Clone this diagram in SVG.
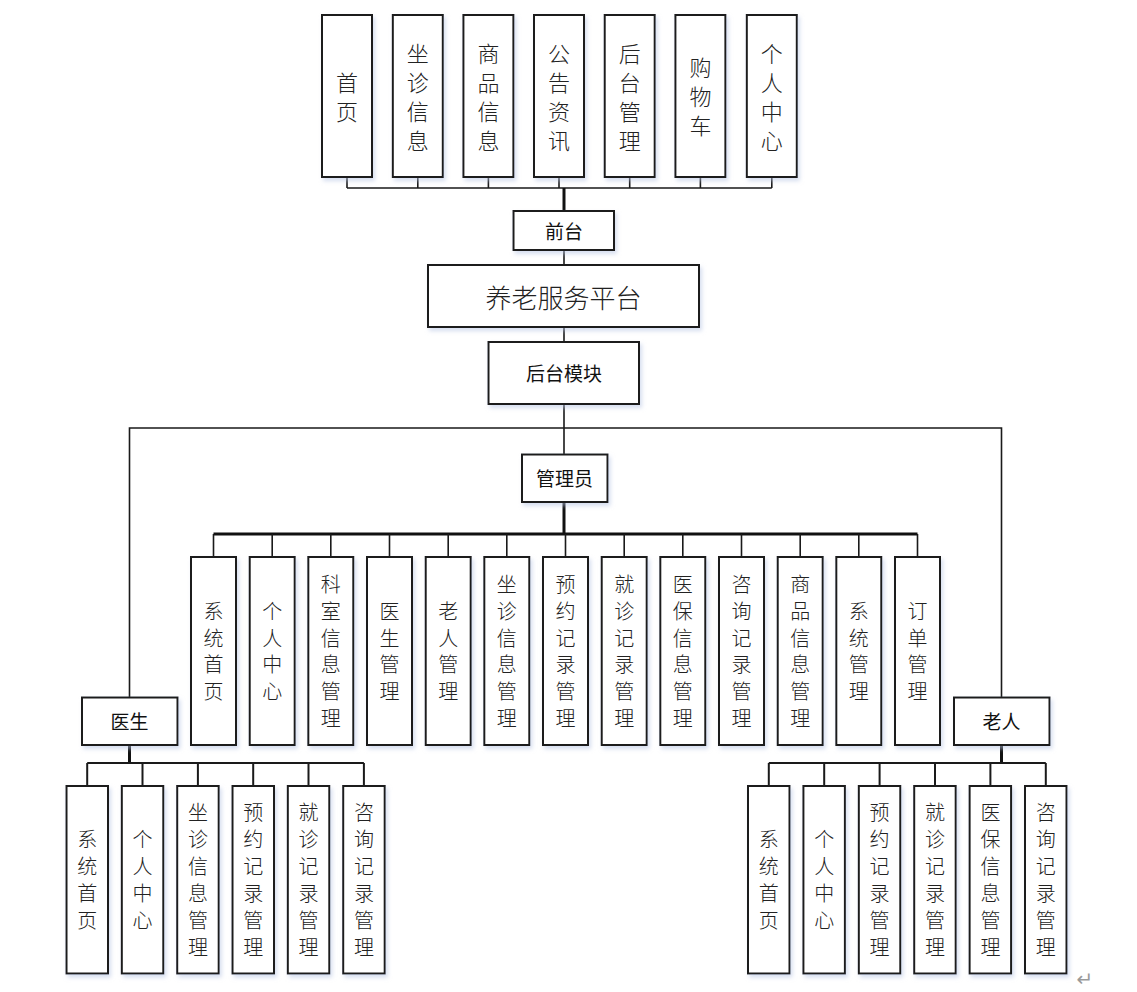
<svg xmlns="http://www.w3.org/2000/svg" width="1137" height="992" viewBox="0 0 1137 992">
<style>
.box{fill:#fff;stroke:#1a1a1a;stroke-width:2;filter:url(#sh)}
.t{font-family:"Noto Sans CJK SC","Noto Sans",sans-serif;fill:#222;text-anchor:middle;dominant-baseline:central}
.v{font-size:20px;font-weight:300}
.vt{font-size:22px;font-weight:300}
.h{font-size:19px;font-weight:400;fill:#111}
.big{font-size:26px;font-weight:300}
.ln{stroke:#1a1a1a;stroke-width:1.6;fill:none}
.tk{stroke:#111;stroke-width:3;fill:none}
</style>
<defs>
<filter id="sh" x="-20%" y="-10%" width="150%" height="130%">
<feDropShadow dx="2" dy="3" stdDeviation="2" flood-color="#b4c2e2" flood-opacity="0.55"/>
</filter>
</defs>
<rect width="1137" height="992" fill="#fff"/>
<g id="connectors">
<path class="ln" d="M347 177V188M417.8 177V188M488.4 177V188M559 177V188M629.7 177V188M700.4 177V188M771.8 177V188M347 188H771.8"/>
<path class="tk" d="M564 188V211"/>
<path class="ln" d="M564 250V265M564 327V342M564 404V454"/>
<path class="ln" d="M129.5 697V428H1001.5V697"/>
<path class="tk" d="M564 502V534M213.5 534H917.5"/>
<path class="ln" d="M213.5 534V557M272.2 534V557M330.8 534V557M389.5 534V557M448.2 534V557M506.8 534V557M565.5 534V557M624.2 534V557M682.8 534V557M741.5 534V557M800.2 534V557M858.8 534V557M917.5 534V557"/>
<path class="tk" d="M129.5 745V763M1001.5 745V763"/>
<path class="ln" d="M87.2 763H363.9M87.2 763V786M142.5 763V786M197.9 763V786M253.2 763V786M308.5 763V786M363.9 763V786" style="stroke-width:2"/>
<path class="ln" d="M768.8 763H1045.8M768.8 763V786M824.2 763V786M879.6 763V786M935 763V786M990.4 763V786M1045.8 763V786" style="stroke-width:2"/>
</g>
<g id="top-shouye"><rect class="box" x="322" y="15" width="50" height="162"/><text class="t vt" x="347"><tspan x="347" y="80.5">首</tspan><tspan x="347" y="109.5">页</tspan></text></g>
<g id="top-zuozhen"><rect class="box" x="392.8" y="15" width="50" height="162"/><text class="t vt"><tspan x="417.8" y="51.5">坐</tspan><tspan x="417.8" y="80.5">诊</tspan><tspan x="417.8" y="109.5">信</tspan><tspan x="417.8" y="138.5">息</tspan></text></g>
<g id="top-shangpin"><rect class="box" x="463.4" y="15" width="50" height="162"/><text class="t vt"><tspan x="488.4" y="51.5">商</tspan><tspan x="488.4" y="80.5">品</tspan><tspan x="488.4" y="109.5">信</tspan><tspan x="488.4" y="138.5">息</tspan></text></g>
<g id="top-gonggao"><rect class="box" x="534" y="15" width="50" height="162"/><text class="t vt"><tspan x="559" y="51.5">公</tspan><tspan x="559" y="80.5">告</tspan><tspan x="559" y="109.5">资</tspan><tspan x="559" y="138.5">讯</tspan></text></g>
<g id="top-houtai"><rect class="box" x="604.7" y="15" width="50" height="162"/><text class="t vt"><tspan x="629.7" y="51.5">后</tspan><tspan x="629.7" y="80.5">台</tspan><tspan x="629.7" y="109.5">管</tspan><tspan x="629.7" y="138.5">理</tspan></text></g>
<g id="top-gouwuche"><rect class="box" x="675.4" y="15" width="50" height="162"/><text class="t vt"><tspan x="700.4" y="66">购</tspan><tspan x="700.4" y="95">物</tspan><tspan x="700.4" y="124">车</tspan></text></g>
<g id="top-geren"><rect class="box" x="746.8" y="15" width="50" height="162"/><text class="t vt"><tspan x="771.8" y="51.5">个</tspan><tspan x="771.8" y="80.5">人</tspan><tspan x="771.8" y="109.5">中</tspan><tspan x="771.8" y="138.5">心</tspan></text></g>
<g id="qiantai"><rect class="box" x="513.5" y="211" width="100.5" height="39"/><text class="t h" x="564" y="230">前台</text></g>
<g id="platform"><rect class="box" x="428" y="265" width="271" height="62"/><text class="t big" x="563.5" y="296">养老服务平台</text></g>
<g id="houtaimokuai"><rect class="box" x="488.5" y="342" width="150.5" height="62"/><text class="t h" x="564" y="372.5">后台模块</text></g>
<g id="admin"><rect class="box" x="522" y="454.5" width="85.5" height="47.5"/><text class="t h" x="564.5" y="477.5">管理员</text></g>
<g id="doctor"><rect class="box" x="82" y="697.5" width="95.5" height="47.5"/><text class="t h" x="129.5" y="720.5">医生</text></g>
<g id="elder"><rect class="box" x="954" y="697.5" width="95.5" height="47.5"/><text class="t h" x="1001.5" y="720.5">老人</text></g>
<g id="a1"><rect class="box" x="191" y="557" width="45" height="188"/><text class="t v"><tspan x="213.5" y="610">系</tspan><tspan x="213.5" y="636.7">统</tspan><tspan x="213.5" y="663.3">首</tspan><tspan x="213.5" y="690">页</tspan></text></g>
<g id="a2"><rect class="box" x="249.7" y="557" width="45" height="188"/><text class="t v"><tspan x="272.2" y="610">个</tspan><tspan x="272.2" y="636.7">人</tspan><tspan x="272.2" y="663.3">中</tspan><tspan x="272.2" y="690">心</tspan></text></g>
<g id="a3"><rect class="box" x="308.3" y="557" width="45" height="188"/><text class="t v"><tspan x="330.8" y="583.3">科</tspan><tspan x="330.8" y="610">室</tspan><tspan x="330.8" y="636.7">信</tspan><tspan x="330.8" y="663.3">息</tspan><tspan x="330.8" y="690">管</tspan><tspan x="330.8" y="716.7">理</tspan></text></g>
<g id="a4"><rect class="box" x="367" y="557" width="45" height="188"/><text class="t v"><tspan x="389.5" y="610">医</tspan><tspan x="389.5" y="636.7">生</tspan><tspan x="389.5" y="663.3">管</tspan><tspan x="389.5" y="690">理</tspan></text></g>
<g id="a5"><rect class="box" x="425.7" y="557" width="45" height="188"/><text class="t v"><tspan x="448.2" y="610">老</tspan><tspan x="448.2" y="636.7">人</tspan><tspan x="448.2" y="663.3">管</tspan><tspan x="448.2" y="690">理</tspan></text></g>
<g id="a6"><rect class="box" x="484.3" y="557" width="45" height="188"/><text class="t v"><tspan x="506.8" y="583.3">坐</tspan><tspan x="506.8" y="610">诊</tspan><tspan x="506.8" y="636.7">信</tspan><tspan x="506.8" y="663.3">息</tspan><tspan x="506.8" y="690">管</tspan><tspan x="506.8" y="716.7">理</tspan></text></g>
<g id="a7"><rect class="box" x="543" y="557" width="45" height="188"/><text class="t v"><tspan x="565.5" y="583.3">预</tspan><tspan x="565.5" y="610">约</tspan><tspan x="565.5" y="636.7">记</tspan><tspan x="565.5" y="663.3">录</tspan><tspan x="565.5" y="690">管</tspan><tspan x="565.5" y="716.7">理</tspan></text></g>
<g id="a8"><rect class="box" x="601.7" y="557" width="45" height="188"/><text class="t v"><tspan x="624.2" y="583.3">就</tspan><tspan x="624.2" y="610">诊</tspan><tspan x="624.2" y="636.7">记</tspan><tspan x="624.2" y="663.3">录</tspan><tspan x="624.2" y="690">管</tspan><tspan x="624.2" y="716.7">理</tspan></text></g>
<g id="a9"><rect class="box" x="660.3" y="557" width="45" height="188"/><text class="t v"><tspan x="682.8" y="583.3">医</tspan><tspan x="682.8" y="610">保</tspan><tspan x="682.8" y="636.7">信</tspan><tspan x="682.8" y="663.3">息</tspan><tspan x="682.8" y="690">管</tspan><tspan x="682.8" y="716.7">理</tspan></text></g>
<g id="a10"><rect class="box" x="719" y="557" width="45" height="188"/><text class="t v"><tspan x="741.5" y="583.3">咨</tspan><tspan x="741.5" y="610">询</tspan><tspan x="741.5" y="636.7">记</tspan><tspan x="741.5" y="663.3">录</tspan><tspan x="741.5" y="690">管</tspan><tspan x="741.5" y="716.7">理</tspan></text></g>
<g id="a11"><rect class="box" x="777.7" y="557" width="45" height="188"/><text class="t v"><tspan x="800.2" y="583.3">商</tspan><tspan x="800.2" y="610">品</tspan><tspan x="800.2" y="636.7">信</tspan><tspan x="800.2" y="663.3">息</tspan><tspan x="800.2" y="690">管</tspan><tspan x="800.2" y="716.7">理</tspan></text></g>
<g id="a12"><rect class="box" x="836.3" y="557" width="45" height="188"/><text class="t v"><tspan x="858.8" y="610">系</tspan><tspan x="858.8" y="636.7">统</tspan><tspan x="858.8" y="663.3">管</tspan><tspan x="858.8" y="690">理</tspan></text></g>
<g id="a13"><rect class="box" x="895" y="557" width="45" height="188"/><text class="t v"><tspan x="917.5" y="610">订</tspan><tspan x="917.5" y="636.7">单</tspan><tspan x="917.5" y="663.3">管</tspan><tspan x="917.5" y="690">理</tspan></text></g>
<g id="d1"><rect class="box" x="66.5" y="786" width="41.5" height="187.5"/><text class="t v"><tspan x="87.2" y="837.5">系</tspan><tspan x="87.2" y="864.5">统</tspan><tspan x="87.2" y="891.5">首</tspan><tspan x="87.2" y="918.5">页</tspan></text></g>
<g id="d2"><rect class="box" x="121.8" y="786" width="41.5" height="187.5"/><text class="t v"><tspan x="142.5" y="837.5">个</tspan><tspan x="142.5" y="864.5">人</tspan><tspan x="142.5" y="891.5">中</tspan><tspan x="142.5" y="918.5">心</tspan></text></g>
<g id="d3"><rect class="box" x="177.2" y="786" width="41.5" height="187.5"/><text class="t v"><tspan x="197.9" y="810.5">坐</tspan><tspan x="197.9" y="837.5">诊</tspan><tspan x="197.9" y="864.5">信</tspan><tspan x="197.9" y="891.5">息</tspan><tspan x="197.9" y="918.5">管</tspan><tspan x="197.9" y="945.5">理</tspan></text></g>
<g id="d4"><rect class="box" x="232.5" y="786" width="41.5" height="187.5"/><text class="t v"><tspan x="253.2" y="810.5">预</tspan><tspan x="253.2" y="837.5">约</tspan><tspan x="253.2" y="864.5">记</tspan><tspan x="253.2" y="891.5">录</tspan><tspan x="253.2" y="918.5">管</tspan><tspan x="253.2" y="945.5">理</tspan></text></g>
<g id="d5"><rect class="box" x="287.8" y="786" width="41.5" height="187.5"/><text class="t v"><tspan x="308.5" y="810.5">就</tspan><tspan x="308.5" y="837.5">诊</tspan><tspan x="308.5" y="864.5">记</tspan><tspan x="308.5" y="891.5">录</tspan><tspan x="308.5" y="918.5">管</tspan><tspan x="308.5" y="945.5">理</tspan></text></g>
<g id="d6"><rect class="box" x="343.2" y="786" width="41.5" height="187.5"/><text class="t v"><tspan x="363.9" y="810.5">咨</tspan><tspan x="363.9" y="837.5">询</tspan><tspan x="363.9" y="864.5">记</tspan><tspan x="363.9" y="891.5">录</tspan><tspan x="363.9" y="918.5">管</tspan><tspan x="363.9" y="945.5">理</tspan></text></g>
<g id="e1"><rect class="box" x="748" y="786" width="41.5" height="187.5"/><text class="t v"><tspan x="768.8" y="837.5">系</tspan><tspan x="768.8" y="864.5">统</tspan><tspan x="768.8" y="891.5">首</tspan><tspan x="768.8" y="918.5">页</tspan></text></g>
<g id="e2"><rect class="box" x="803.4" y="786" width="41.5" height="187.5"/><text class="t v"><tspan x="824.2" y="837.5">个</tspan><tspan x="824.2" y="864.5">人</tspan><tspan x="824.2" y="891.5">中</tspan><tspan x="824.2" y="918.5">心</tspan></text></g>
<g id="e3"><rect class="box" x="858.8" y="786" width="41.5" height="187.5"/><text class="t v"><tspan x="879.6" y="810.5">预</tspan><tspan x="879.6" y="837.5">约</tspan><tspan x="879.6" y="864.5">记</tspan><tspan x="879.6" y="891.5">录</tspan><tspan x="879.6" y="918.5">管</tspan><tspan x="879.6" y="945.5">理</tspan></text></g>
<g id="e4"><rect class="box" x="914.2" y="786" width="41.5" height="187.5"/><text class="t v"><tspan x="935" y="810.5">就</tspan><tspan x="935" y="837.5">诊</tspan><tspan x="935" y="864.5">记</tspan><tspan x="935" y="891.5">录</tspan><tspan x="935" y="918.5">管</tspan><tspan x="935" y="945.5">理</tspan></text></g>
<g id="e5"><rect class="box" x="969.6" y="786" width="41.5" height="187.5"/><text class="t v"><tspan x="990.4" y="810.5">医</tspan><tspan x="990.4" y="837.5">保</tspan><tspan x="990.4" y="864.5">信</tspan><tspan x="990.4" y="891.5">息</tspan><tspan x="990.4" y="918.5">管</tspan><tspan x="990.4" y="945.5">理</tspan></text></g>
<g id="e6"><rect class="box" x="1025" y="786" width="41.5" height="187.5"/><text class="t v"><tspan x="1045.8" y="810.5">咨</tspan><tspan x="1045.8" y="837.5">询</tspan><tspan x="1045.8" y="864.5">记</tspan><tspan x="1045.8" y="891.5">录</tspan><tspan x="1045.8" y="918.5">管</tspan><tspan x="1045.8" y="945.5">理</tspan></text></g>
<text x="1085" y="979" font-family="DejaVu Sans, sans-serif" font-size="20" fill="#9a9a9a" text-anchor="middle" dominant-baseline="central">↵</text>
</svg>
